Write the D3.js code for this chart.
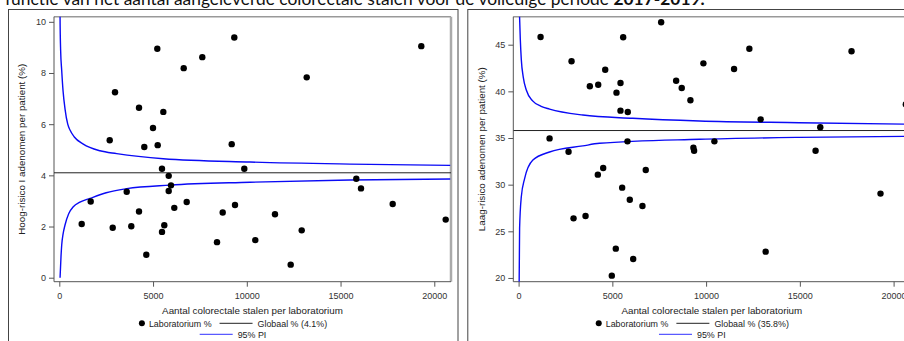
<!DOCTYPE html>
<html><head><meta charset="utf-8">
<script src="https://cdn.jsdelivr.net/npm/d3@7"></script>
<style>
html,body{margin:0;padding:0;background:#fff;overflow:hidden;}
svg{display:block;}
</style></head>
<body>
<svg id="chart" width="904" height="341"></svg>
<script>
// ---------- data ----------
const titleText = "functie van het aantal aangeleverde colorectale stalen voor de volledige periode ";
const titleBold = "2017-2019.";
const xTicks = [0, 5000, 10000, 15000, 20000];
const xLabel = "Aantal colorectale stalen per laboratorium";

// Panel A: Hoog-risico
const hrYTicks = [0, 2, 4, 6, 8, 10];
const hrYLabel = "Hoog-risico I adenomen per patient (%)";
const hrGlobal = 4.1;
const hrGlobalLabel = "Globaal % (4.1%)";
const hrLabN = [9333, 5227, 19307, 7627, 6635, 13195, 2971, 4251, 5547, 4997, 2688, 4533, 5248, 9195,
  5477, 9867, 5835, 15840, 5957, 16091, 3595, 5835, 1675, 6795, 17781, 9371, 6133, 4251, 8715, 11504,
  20608, 1195, 5600, 2848, 3840, 12928, 5477, 8411, 10453, 4640, 12341];
const hrLabPct = [9.39, 8.95, 9.05, 8.62, 8.19, 7.83, 7.25, 6.64, 6.48, 5.85, 5.37, 5.11, 5.18, 5.22,
  4.26, 4.26, 3.98, 3.87, 3.61, 3.49, 3.36, 3.39, 2.98, 2.96, 2.88, 2.84, 2.73, 2.59, 2.55, 2.48,
  2.27, 2.10, 2.05, 1.95, 2.01, 1.85, 1.79, 1.39, 1.47, 0.90, 0.51];
const hrUpperN = [20, 40, 70, 128, 200, 304, 450, 571, 800, 1280, 2171, 3061, 5547, 10171, 15504, 20850];
const hrUpperPct = [12.8, 10.2, 8.9, 8.1, 7.3, 6.6, 6.0, 5.77, 5.5, 5.22, 4.96, 4.85, 4.65, 4.52, 4.44, 4.39];
const hrLowerN = [40, 90, 128, 200, 304, 500, 747, 1100, 1637, 2500, 3595, 5904, 10171, 15504, 20850];
const hrLowerPct = [0, 0.82, 1.28, 1.7, 2.06, 2.5, 2.77, 2.95, 3.10, 3.32, 3.48, 3.62, 3.73, 3.82, 3.86];

// Panel B: Laag-risico
const lrYTicks = [20, 25, 30, 35, 40, 45];
const lrYLabel = "Laag-risico adenomen per patient (%)";
const lrGlobal = 35.8;
const lrGlobalLabel = "Globaal % (35.8%)";
const lrLabN = [7603, 1172, 5578, 12307, 17757, 2824, 9856, 4619, 11492, 8402, 5434, 4246, 3799, 8700,
  5221, 9164, 5434, 5823, 12909, 16089, 20650, 1652, 5807, 10442, 9323, 9360, 15839, 2664, 4512, 6782,
  4225, 5524, 19302, 5930, 6606, 3570, 2930, 5184, 13175, 6111, 4971];
const lrLabPct = [47.40, 45.82, 45.79, 44.57, 44.29, 43.22, 43.0, 42.32, 42.39, 41.14, 40.89, 40.71, 40.54, 40.36,
  39.86, 39.04, 37.93, 37.79, 37.0, 36.15, 38.6, 34.96, 34.64, 34.64, 33.96, 33.64, 33.64, 33.53, 31.79, 31.57,
  31.07, 29.68, 29.04, 28.39, 27.71, 26.64, 26.39, 23.14, 22.82, 22.04, 20.25];
const lrUpperN = [50, 90, 144, 250, 410, 762, 1200, 1652, 3426, 6090, 9643, 14971, 20850];
const lrUpperPct = [48.1, 45.6, 43.4, 41.5, 40.14, 38.95, 38.4, 38.1, 37.46, 37.11, 36.82, 36.64, 36.48];
const lrLowerN = [30, 53, 144, 320, 762, 1652, 3426, 4315, 9643, 14971, 20850];
const lrLowerPct = [19.6, 25.3, 28.7, 30.65, 32.64, 33.5, 34.15, 34.43, 34.86, 35.07, 35.18];

const legendLab = "Laboratorium %";
const legendPI = "95% PI";

// ---------- drawing ----------
const svg = d3.select("#chart");
const FONT = "'Liberation Sans', Arial, sans-serif";
const BLUE = "#0a0af5";

const title = svg.append("text")
  .attr("x", 5).attr("y", 4.5)
  .attr("font-family", "Lato, 'Open Sans', sans-serif").attr("font-size", 16).attr("fill", "#111")
  .call(t => { t.append("tspan").text(titleText); t.append("tspan").attr("font-weight", "bold").text(titleBold); });
// fit title width to the reference's span (~700px)
const tw = title.node().getComputedTextLength();
title.attr("font-size", 16 * 700 / tw);

const panels = [
  {ox: 0, yDomain: [-0.156, 10.2], yTicks: hrYTicks, yLabel: hrYLabel, global: hrGlobal, globalLabel: hrGlobalLabel,
   labN: hrLabN, labPct: hrLabPct, upN: hrUpperN, upPct: hrUpperPct, loN: hrLowerN, loPct: hrLowerPct},
  {ox: 459.3, yDomain: [19.6, 48.0], yTicks: lrYTicks, yLabel: lrYLabel, global: lrGlobal, globalLabel: lrGlobalLabel,
   labN: lrLabN, labPct: lrLabPct, upN: lrUpperN, upPct: lrUpperPct, loN: lrLowerN, loPct: lrLowerPct}
];

panels.forEach((p, i) => {
  const g = svg.append("g").attr("transform", `translate(${p.ox},0)`);
  // frame
  g.append("rect").attr("x", 8.5).attr("y", 9.5).attr("width", 449.5).attr("height", 400)
    .attr("fill", "none").attr("stroke", "#444").attr("stroke-width", 1);

  const L = 54, R = 451, T = 16.7, B = 281.7;
  const x = d3.scaleLinear().domain([-283, 20891]).range([L, R]);
  const y = d3.scaleLinear().domain(p.yDomain).range([B, T]);

  // plot border (top/right)
  g.append("line").attr("x1", L).attr("x2", R).attr("y1", T).attr("y2", T).attr("stroke", "#999").attr("stroke-width", 1.5);
  g.append("line").attr("x1", R).attr("x2", R).attr("y1", T).attr("y2", B).attr("stroke", "#aaa").attr("stroke-width", 2.5);

  const clipId = "clip" + i;
  g.append("clipPath").attr("id", clipId).append("rect").attr("x", L).attr("y", T).attr("width", R - L).attr("height", B - T);

  // axes
  const xa = g.append("g").attr("transform", `translate(0,${B})`)
    .call(d3.axisBottom(x).tickValues(xTicks).tickSize(5).tickPadding(6).tickSizeOuter(0).tickFormat(d3.format("d")));
  const ya = g.append("g").attr("transform", `translate(${L},0)`)
    .call(d3.axisLeft(y).tickValues(p.yTicks).tickSize(5).tickPadding(3).tickSizeOuter(0));
  [xa, ya].forEach(a => {
    a.select(".domain").attr("stroke", "#555");
    a.selectAll(".tick line").attr("stroke", "#555");
    a.selectAll("text").attr("font-family", FONT).attr("font-size", 9).attr("fill", "#333");
  });
  xa.select(".domain").attr("d", `M${L},0H${R}`);
  ya.select(".domain").attr("d", `M0,${B}V${T}`);

  const pg = g.append("g").attr("clip-path", `url(#${clipId})`);
  // global line
  pg.append("line").attr("x1", L).attr("x2", R).attr("y1", y(p.global)).attr("y2", y(p.global))
    .attr("stroke", "#222").attr("stroke-width", 1);
  // PI curves
  const line = d3.line().x(d => x(d[0])).y(d => y(d[1])).curve(d3.curveMonotoneX);
  pg.append("path").datum(d3.zip(p.upN, p.upPct)).attr("d", line)
    .attr("fill", "none").attr("stroke", BLUE).attr("stroke-width", 1.4);
  pg.append("path").datum(d3.zip(p.loN, p.loPct)).attr("d", line)
    .attr("fill", "none").attr("stroke", BLUE).attr("stroke-width", 1.4);

  // points
  g.append("g").selectAll("circle").data(d3.zip(p.labN, p.labPct)).join("circle")
    .attr("cx", d => x(d[0])).attr("cy", d => y(d[1])).attr("r", 3.2).attr("fill", "#000");

  // axis titles
  g.append("text").attr("x", (L + R) / 2).attr("y", 314).attr("text-anchor", "middle")
    .attr("font-family", FONT).attr("font-size", 9.8).attr("fill", "#222").text(xLabel);
  g.append("text").attr("transform", `translate(25.2,${(T + B) / 2}) rotate(-90)`).attr("text-anchor", "middle")
    .attr("font-family", FONT).attr("font-size", 9.8).attr("fill", "#222").text(p.yLabel);

  // legend
  const lg = g.append("g").attr("font-family", FONT).attr("font-size", 8.9).attr("fill", "#222");
  const cx = 233;
  const t1 = lg.append("text").attr("y", 326.5).text(legendLab);
  const t2 = lg.append("text").attr("y", 326.5).text(p.globalLabel);
  const w1 = t1.node().getComputedTextLength(), w2 = t2.node().getComputedTextLength();
  const row1W = 6 + 4 + w1 + 8 + 33 + 5 + w2;
  let sx = cx - row1W / 2;
  lg.append("circle").attr("cx", sx + 3).attr("cy", 323.3).attr("r", 3).attr("fill", "#000");
  t1.attr("x", sx + 10);
  const lx = sx + 10 + w1 + 8;
  lg.append("line").attr("x1", lx).attr("x2", lx + 33).attr("y1", 323.3).attr("y2", 323.3).attr("stroke", "#222").attr("stroke-width", 1);
  t2.attr("x", lx + 38);
  const t3 = lg.append("text").attr("y", 337.5).text(legendPI);
  const w3 = t3.node().getComputedTextLength();
  const row2W = 33 + 5 + w3;
  const sx2 = cx - row2W / 2;
  lg.append("line").attr("x1", sx2).attr("x2", sx2 + 33).attr("y1", 334.3).attr("y2", 334.3).attr("stroke", "#5a5aff").attr("stroke-width", 1.2);
  t3.attr("x", sx2 + 38);
});
</script>
</body></html>
